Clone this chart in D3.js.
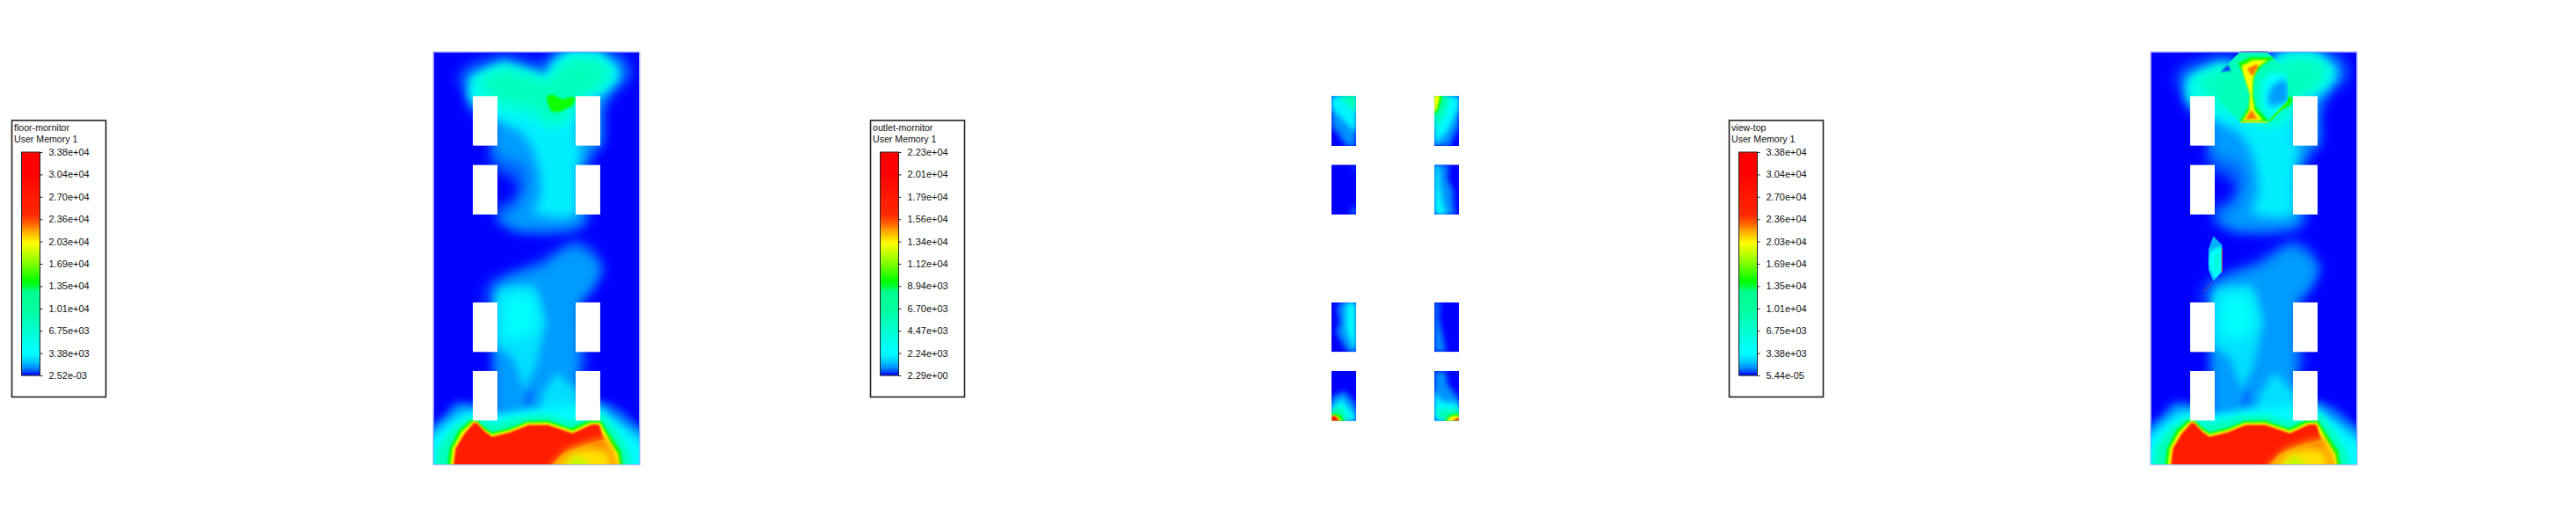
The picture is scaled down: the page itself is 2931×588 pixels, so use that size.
<!DOCTYPE html>
<html><head><meta charset="utf-8">
<script src="https://cdn.jsdelivr.net/npm/d3@7"></script>
<style>html,body{margin:0;background:#fff}svg{display:block}text{font-family:"Liberation Sans",Arial,sans-serif;fill:#111}</style>
</head><body><svg id="c" width="2931" height="588"></svg>
<script>
// ---- colour bar (fraction of range -> colour)
const barStops=[0,.02,.035,.06,.09,.11,.2,.3,.375,.395,.42,.5,.59,.64,.68,.72,.85,.9,1];
const barColours=["#0000ff","#0060ff","#0090ff","#00c8ff","#00f5ff","#00ffff","#00ffd0","#00ff9c","#00ff90","#00ff40","#00ff00","#80ff00","#ffff00","#ffb000","#ff6000","#ff2800","#ff1000","#ff0000","#ff0000"];
// ---- legends
const floorTicks=["3.38e+04","3.04e+04","2.70e+04","2.36e+04","2.03e+04","1.69e+04","1.35e+04","1.01e+04","6.75e+03","3.38e+03","2.52e-03"];
const outletTicks=["2.23e+04","2.01e+04","1.79e+04","1.56e+04","1.34e+04","1.12e+04","8.94e+03","6.70e+03","4.47e+03","2.24e+03","2.29e+00"];
const viewTicks=["3.38e+04","3.04e+04","2.70e+04","2.36e+04","2.03e+04","1.69e+04","1.35e+04","1.01e+04","6.75e+03","3.38e+03","5.44e-05"];
const floorTitle="floor-mornitor", outletTitle="outlet-mornitor", viewTitle="view-top", fieldName="User Memory 1";
// ---- building openings in the section (x0,x1 / y0,y1 in section units)
const openingX=[[174,258],[525,609]];
const openingY=[[178,347],[413,582],[882,1051],[1116,1285]];
// ---- iso-contours of the section field, section units: x 40..743, y 28..1435
const topHalo=[125,100,175,62,280,32,385,62,430,55,455,5,600,5,690,40,722,110,670,155,630,200,605,240,615,345,580,360,585,395,550,420,535,500,578,590,535,632,450,648,330,642,258,610,250,560,320,525,335,490,290,445,250,435,228,375,250,347,250,240,165,235,155,180,130,140];
const topAzure=[165,112,280,62,385,92,435,105,445,62,495,22,595,22,672,68,682,110,632,160,615,200,612,345,570,362,560,400,530,430,530,560,558,607,512,626,420,632,330,632,280,605,262,590,325,562,348,512,362,472,350,415,305,400,250,375,242,345,250,260,165,185];
const topCyan=[168,118,280,70,430,118,440,72,498,30,595,30,665,80,672,112,622,170,530,185,530,345,548,360,532,410,532,580,480,595,382,578,410,500,400,420,375,352,338,300,280,272,250,255,165,185];
const topAqua=[172,118,280,72,430,124,456,78,508,36,596,36,655,84,656,120,600,165,530,195,505,268,440,300,375,260,255,235,170,190];
const topMint=[195,120,280,85,430,128,466,85,518,50,610,55,642,100,595,155,530,185,505,240,440,272,378,215,255,195];
const topGreen=[425,180,445,172,480,190,510,180,525,185,515,210,470,232,445,232,432,210];
const lowHalo=[205,880,232,808,295,782,398,742,448,712,522,665,580,695,622,760,600,815,548,878,533,890,553,1050,565,1100,533,1116,533,1295,250,1295,250,1116,240,1060,250,1040,250,882];
const lowAzure=[258,825,305,795,418,762,468,722,520,692,578,725,608,770,578,835,536,875,532,1116,532,1285,250,1285,250,882];
const lowDark=[345,1225,365,1180,385,1185,375,1225,355,1240];
const lowCyanLeft=[250,860,268,832,382,822,402,860,424,950,408,1025,388,1105,350,1180,312,1075,250,1030];
const lowMintLeft=[275,880,320,850,372,855,398,950,355,1010,280,1000];
const lowCyanBase=[392,1295,412,1195,460,1120,508,1165,533,1195,533,1295];
const baseHalo=[15,1310,70,1275,115,1222,174,1225,258,1272,525,1272,609,1215,675,1245,728,1292,770,1322,770,1465,15,1465];
const baseAzure=[15,1340,72,1292,125,1242,174,1242,258,1268,525,1262,609,1232,655,1268,708,1302,770,1342,770,1465,15,1465];
const baseCyan=[15,1362,95,1292,148,1258,174,1258,258,1264,350,1248,525,1232,609,1248,665,1292,728,1342,770,1378,770,1465,15,1465];
const baseAqua=[44,1465,54,1378,106,1310,158,1276,200,1278,240,1296,350,1268,430,1264,510,1291,570,1264,618,1266,670,1326,706,1388,722,1465];
const hotGreen=[85,1465,95,1380,125,1320,165,1285,190,1285,210,1305,240,1325,300,1310,360,1287,430,1285,510,1312,570,1285,610,1285,650,1345,680,1390,690,1465];
const hotYellow=[95,1465,105,1380,135,1325,175,1287,190,1290,212,1315,240,1332,300,1318,360,1293,430,1292,515,1320,575,1292,608,1292,645,1360,670,1400,680,1465];
const hotRed=[105,1465,115,1380,145,1330,178,1292,190,1295,215,1322,240,1340,300,1325,365,1300,430,1300,515,1328,580,1298,605,1298,622,1350,540,1375,480,1400,420,1465];
const hotOrange=[415,1465,490,1385,565,1355,625,1340,660,1410,672,1465];
const hotAmber=[440,1465,505,1395,570,1378,635,1385,658,1465];
const hotLime=[475,1465,530,1402,592,1465];
// ---- patch seen only in the view-top section
const patchHull=[275,95,343,28,438,28,508,95,508,195,438,268,343,268,275,195];
const patchCyan=[418,190,418,130,458,95,503,100,508,195,443,250,428,235];
const patchAzure=[446,215,438,180,453,145,488,120,508,135,508,195];
const patchDark=[275,95,303,70,313,92];
const crossGreen=[338,65,378,45,463,45,418,75,393,110,388,170,398,215,443,265,343,265,373,215,380,170,363,120];
const crossYellow=[350,75,388,55,438,55,403,80,388,120,386,175,393,225,423,262,353,262,376,225,378,170,358,110];
const crossOrangeTop=[368,85,398,70,408,75,386,110];
const crossOrangeLow=[373,240,383,225,403,255,363,258];
const sliverHull=[253,655,283,685,283,778,253,810,236,770,236,700];
const sliverCyan=[253,700,268,695,283,690,283,775,258,805,243,770,236,745,243,710];
const sliverMint=[256,720,270,715,270,770,258,785];
// ---- wall contours of the outlet section, outlet units (one per opening)
const w1=[[.035,[45,160,70,190,95,228,129,228,129,57,45,57]],[.09,[45,100,80,135,129,185,129,57,45,57]],[.22,[45,57,129,57,129,120,95,85,60,57]],[.28,[80,57,129,57,129,95,105,75]]];
const w2=[[.035,[396,57,480,57,480,160,460,200,450,228,396,228]],[.1,[396,57,480,57,480,100,440,180,415,205,396,228]],[.28,[396,57,450,57,430,120,410,150,396,180]],[.43,[396,57,425,57,410,105,396,125]],[.59,[396,57,415,57,405,100,396,115]]];
const w3=[[.035,[129,430,105,462,129,462]],[.02,[115,292,129,292,129,320]]];
const w4=[[.035,[396,292,445,292,440,340,460,380,460,430,470,462,396,462]],[.1,[396,292,410,292,415,360,425,420,440,462,396,462]]];
const w5=[[.035,[70,762,129,762,129,931,100,931,70,880,60,860,75,830,65,790]],[.11,[95,762,129,762,129,931,120,920,95,855]]];
const w6=[[.035,[396,762,415,762,410,810,425,880,435,931,396,931]]];
const w7=[[.035,[45,1085,90,1065,129,1110,129,1166,45,1166]],[.1,[45,1120,80,1090,129,1150,129,1166,45,1166]],[.28,[45,1130,75,1115,105,1166,45,1166]],[.43,[45,1140,75,1145,90,1166,45,1166]],[.59,[45,1145,65,1150,80,1166,45,1166]],[.9,[45,1150,58,1150,72,1166,45,1166]]];
const w8=[[.035,[396,996,435,996,440,1040,480,1090,480,1166,396,1166]],[.1,[396,1060,420,1100,480,1105,480,1166,396,1166]],[.28,[396,1130,440,1130,480,1125,480,1166,430,1166]],[.43,[430,1166,450,1145,480,1140,480,1166]],[.59,[435,1166,455,1150,480,1148,480,1166]],[.9,[455,1166,480,1155,480,1166]]];

const sectionLayers=[
 [topHalo,.02,7],[topAzure,.04,7],[topCyan,.085,6],[topAqua,.15,6],[topMint,.24,7],[topGreen,.43,1.2],
 [lowHalo,.02,7],[lowAzure,.04,6],[lowDark,.025,3],[lowCyanLeft,.075,5],[lowMintLeft,.115,7],[lowCyanBase,.075,5],
 [baseHalo,.025,5],[baseAzure,.05,4],[baseCyan,.1,4],[baseAqua,.24,3],[hotGreen,.43,1],[hotYellow,.59,.9],[hotRed,.78,.9],
 [hotOrange,.665,4],[hotAmber,.61,5],[hotLime,.54,5]];
const patchLayers=[[patchHull,.24,.3],[patchCyan,.11,3],[patchAzure,.04,3],[patchDark,.015,1],[crossGreen,.43,1],[crossYellow,.59,1],[crossOrangeTop,.67,1],[crossOrangeLow,.67,1],[sliverHull,.05,.3],[sliverCyan,.11,1],[sliverMint,.2,1]];

const colour=d3.scaleLinear().domain(barStops).range(barColours);
const svg=d3.select("#c"), defs=svg.append("defs");
const chunk=a=>d3.range(0,a.length,2).map(i=>[a[i],a[i+1]]);
const fid=s=>"b"+String(s).replace(".","_");
[.3,.9,1,1.2,2,3,4,5,6,7].forEach(s=>defs.append("filter").attr("id",fid(s))
  .attr("filterUnits","userSpaceOnUse").attr("x",0).attr("y",0).attr("width",2931).attr("height",588)
  .append("feGaussianBlur").attr("stdDeviation",s));

function section(x0,id,extra){
  const x=d3.scaleLinear().domain([40,743]).range([x0,x0+234.3]);
  const y=d3.scaleLinear().domain([28,1435]).range([59.3,528.3]);
  const line=d3.line().x(d=>x(d[0])).y(d=>y(d[1])).curve(d3.curveLinearClosed);
  defs.append("clipPath").attr("id",id).append("rect").attr("x",x(40)).attr("y",y(28)).attr("width",x(743)-x(40)).attr("height",y(1435)-y(28));
  const g=svg.append("g").attr("clip-path",`url(#${id})`);
  g.append("rect").attr("x",x(40)).attr("y",y(28)).attr("width",x(743)-x(40)).attr("height",y(1435)-y(28)).attr("fill",colour(0));
  const draw=(host,layers)=>host.selectAll(null).data(layers).join("path")
    .attr("d",d=>line(chunk(d[0]))).attr("fill",d=>colour(d[1])).attr("filter",d=>`url(#${fid(d[2])})`);
  draw(g,sectionLayers);
  svg.append("rect").attr("x",x(40)-.5).attr("y",y(28)-.5).attr("width",x(743)-x(40)+1).attr("height",y(1435)-y(28)+1).attr("fill","none").attr("stroke","#b8b8ff").attr("stroke-width",1);
  if(extra){
    defs.append("clipPath").attr("id",id+"p").append("path").attr("d",line(chunk(patchHull)));
    defs.append("clipPath").attr("id",id+"s").append("path").attr("d",line(chunk(sliverHull)));
    const p=svg.append("g").attr("clip-path",`url(#${id}p)`);
    draw(p,patchLayers.slice(0,8));
    const s=svg.append("g").attr("clip-path",`url(#${id}s)`);
    draw(s,patchLayers.slice(8));
    const stroke=(pts,c,w)=>svg.append("path").attr("d",d3.line().x(d=>x(d[0])).y(d=>y(d[1]))(pts)).attr("fill","none").attr("stroke",c).attr("stroke-width",w);
    stroke([[443,266],[508,197]],"#40ff00",1.6);
    stroke([[346,267],[438,267]],"#ffe000",1.4);
    stroke([[346,27],[440,27]],"#7070e0",1.4);
    stroke([[283,700],[283,778]],"#d04040",1);
    stroke([[253,810],[216,848]],"#804060",.8);
  }
  svg.selectAll(null).data(d3.cross(openingX,openingY)).join("rect")
    .attr("x",d=>x(d[0][0])).attr("y",d=>y(d[1][0])).attr("width",d=>x(d[0][1])-x(d[0][0])).attr("height",d=>y(d[1][1])-y(d[1][0])).attr("fill","#fff");
}

function outlet(){
  const x=d3.scaleLinear().domain([0,510]).range([1500,1670]);
  const y=d3.scaleLinear().domain([0,1230]).range([90,500]);
  const line=d3.line().x(d=>x(d[0])).y(d=>y(d[1])).curve(d3.curveLinearClosed);
  const walls=[[w1,45,57,228],[w2,396,57,228],[w3,45,292,462],[w4,396,292,462],[w5,45,762,931],[w6,396,762,931],[w7,45,996,1166],[w8,396,996,1166]];
  walls.forEach((w,i)=>{
    const id="wall"+i;
    defs.append("clipPath").attr("id",id).append("rect").attr("x",x(w[1])).attr("y",y(w[2])).attr("width",x(84)-x(0)).attr("height",y(w[3])-y(w[2]));
    const g=svg.append("g").attr("clip-path",`url(#${id})`);
    g.append("rect").attr("x",x(w[1])).attr("y",y(w[2])).attr("width",x(84)-x(0)).attr("height",y(w[3])-y(w[2])).attr("fill",colour(0));
    g.selectAll(null).data(w[0]).join("path").attr("d",d=>line(chunk(d[1]))).attr("fill",d=>colour(d[0])).attr("filter",d=>d[0]>.3?"url(#b1)":"url(#b3)");
  });
}

function legend(x0,title,ticks){
  const g=svg.append("g").attr("transform",`translate(${x0},0)`);
  g.append("rect").attr("x",13.5).attr("y",137).attr("width",107).attr("height",314.5).attr("fill","#fff").attr("stroke","#222").attr("stroke-width",1.6);
  g.append("text").attr("x",16).attr("y",148.5).attr("font-size",10.6).text(title);
  g.append("text").attr("x",16).attr("y",161.5).attr("font-size",10.6).text(fieldName);
  const v=d3.scaleLinear().domain([0,1]).range([427,173]);
  const bands=d3.range(0,1,1/254);
  g.selectAll(null).data(bands).join("rect").attr("x",24.5).attr("width",21).attr("y",d=>v(d)-1).attr("height",1.2).attr("fill",d=>colour(d));
  g.append("rect").attr("x",24.5).attr("y",173).attr("width",21).attr("height",254).attr("fill","none").attr("stroke","#222").attr("stroke-width",1);
  const pos=d3.scalePoint().domain(ticks).range([173,427]);
  const ax=g.append("g").attr("transform","translate(45.5,0)").call(d3.axisRight(pos).tickSize(3).tickPadding(7));
  ax.select(".domain").remove();
  ax.selectAll("line").attr("stroke","#222");
  ax.selectAll("text").attr("font-size",11).attr("font-family",'"Liberation Sans",Arial,sans-serif').attr("fill","#111");
}

section(493.3,"fa",false);
section(2447.3,"fb",true);
outlet();
legend(0,floorTitle,floorTicks);
legend(977,outletTitle,outletTicks);
legend(1954,viewTitle,viewTicks);
</script></body></html>
